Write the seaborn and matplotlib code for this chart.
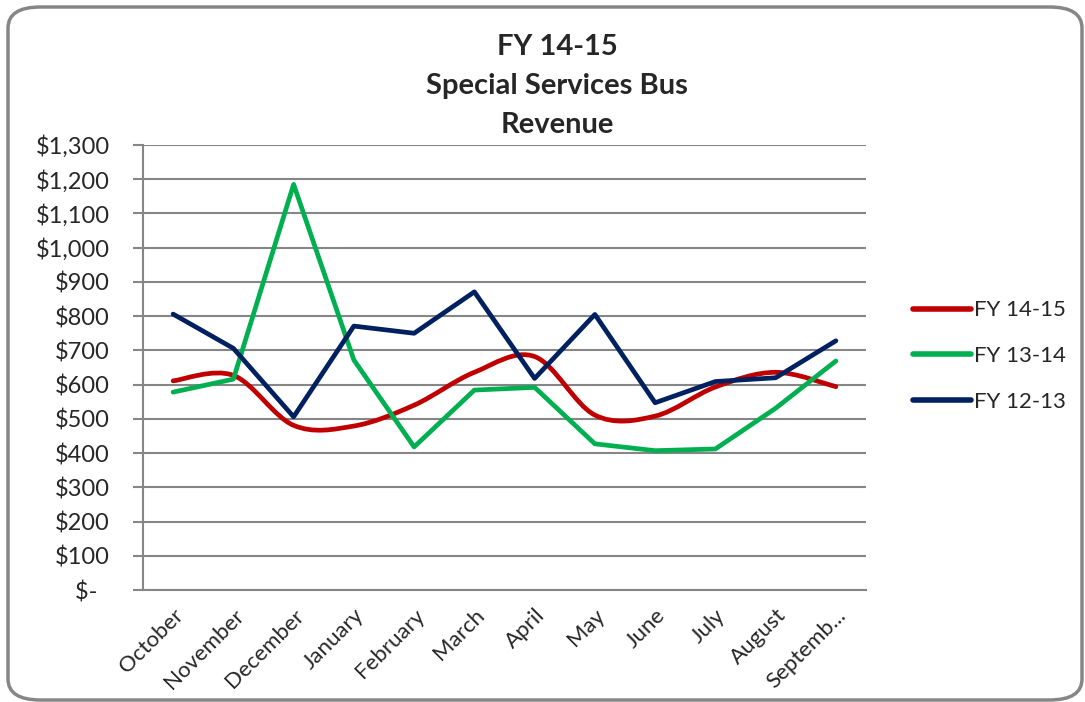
import matplotlib
matplotlib.use("Agg")
import matplotlib.pyplot as plt
from matplotlib.path import Path
from matplotlib.patches import PathPatch, FancyBboxPatch
from matplotlib.lines import Line2D
import seaborn as sns
import pandas as pd
import numpy as np

months = ["October", "November", "December", "January", "February", "March",
          "April", "May", "June", "July", "August", "Septemb..."]
fy_14_15 = [611, 627, 481, 479, 540, 636, 682, 511, 508, 593, 636, 594]
fy_13_14 = [578, 616, 1185, 672, 418, 584, 592, 427, 407, 412, 531, 669]
fy_12_13 = [806, 706, 506, 771, 750, 871, 618, 805, 547, 609, 620, 728]
series_names = ["FY 14-15", "FY 13-14", "FY 12-13"]
colors = ["#C00000", "#00B050", "#002060"]

sns.set_style("white")
plt.rcParams["font.family"] = ["Lato", "DejaVu Sans"]

rows = []
for name, vals in zip(series_names, [fy_14_15, fy_13_14, fy_12_13]):
    for i, v in enumerate(vals):
        rows.append({"pos": i, "Revenue": v, "Series": name})
df = pd.DataFrame(rows)

fig = plt.figure(figsize=(10.85, 7.02), dpi=100)
ax = fig.add_axes([143 / 1085, 1 - 590 / 702, (866 - 143) / 1085, (590 - 145) / 702])

# straight series (green and navy)
straight = df[df["Series"] != "FY 14-15"]
sns.lineplot(data=straight, x="pos", y="Revenue", hue="Series",
             palette=dict(zip(series_names, colors)), hue_order=series_names[1:],
             linewidth=3.4, ax=ax, legend=False, zorder=3)

# smoothed FY 14-15 line (Excel style smoothing, catmull-rom -> bezier)
pts = np.column_stack([np.arange(len(fy_14_15)), fy_14_15]).astype(float)
verts = [tuple(pts[0])]
codes = [Path.MOVETO]
n = len(pts)
for i in range(n - 1):
    p0 = pts[i - 1] if i > 0 else pts[i]
    p1, p2 = pts[i], pts[i + 1]
    p3 = pts[i + 2] if i + 2 < n else pts[i + 1]
    c1 = p1 + (p2 - p0) / 6
    c2 = p2 - (p3 - p1) / 6
    verts += [tuple(c1), tuple(c2), tuple(p2)]
    codes += [Path.CURVE4] * 3
ax.add_patch(PathPatch(Path(verts, codes), facecolor="none", edgecolor=colors[0],
                       linewidth=3.4, zorder=2, capstyle="round", joinstyle="round"))
for ln in ax.lines:
    ln.set_solid_capstyle("round")

ax.set_xlim(-0.5, 11.5)
ax.set_ylim(0, 1300)
ax.set_yticks(range(0, 1301, 100))
ax.set_yticklabels(["$-  "] + [f"${v:,}" for v in range(100, 1301, 100)], fontsize=17)
ax.set_xticks(range(12))
ax.set_xticklabels(months, rotation=45, ha="right", rotation_mode="anchor", fontsize=16)
ax.set_xticks(np.arange(-0.5, 12, 1), minor=True)
ax.tick_params(axis="x", which="major", length=0, pad=11)
ax.tick_params(axis="x", which="minor", length=6, width=1.5, color="#868686", direction="out")
ax.tick_params(axis="y", length=7, width=1.5, color="#868686", direction="out", pad=17, left=True)
ax.grid(axis="y", color="#868686", linewidth=1.5)
ax.set_axisbelow(True)
ax.set_xlabel("")
ax.set_ylabel("")
for side in ["top", "right"]:
    ax.spines[side].set_visible(False)
for side in ["left", "bottom"]:
    ax.spines[side].set_color("#868686")
    ax.spines[side].set_linewidth(1.5)

fig.text(557 / 1085, 1 - 86 / 702, "FY 14-15\nSpecial Services Bus\nRevenue",
         ha="center", va="center", fontsize=21, fontweight="bold", linespacing=1.62)

handles = [Line2D([0], [0], color=c, linewidth=4, solid_capstyle="round") for c in colors]
fig.legend(handles, series_names, loc="center left", bbox_to_anchor=(913 / 1085, 1 - 356 / 702),
           frameon=False, fontsize=16, handlelength=2.6, handletextpad=0.15, labelspacing=1.15,
           borderpad=0, borderaxespad=0)

border = FancyBboxPatch((8 / 1085, 1 - 700 / 702), (1082 - 8) / 1085, (700 - 7) / 702,
                        boxstyle="round,pad=0,rounding_size=0.03", transform=fig.transFigure,
                        facecolor="none", edgecolor="#868686", linewidth=2.5, clip_on=False)
fig.patches.append(border)

fig.savefig("out.png", dpi=100)
